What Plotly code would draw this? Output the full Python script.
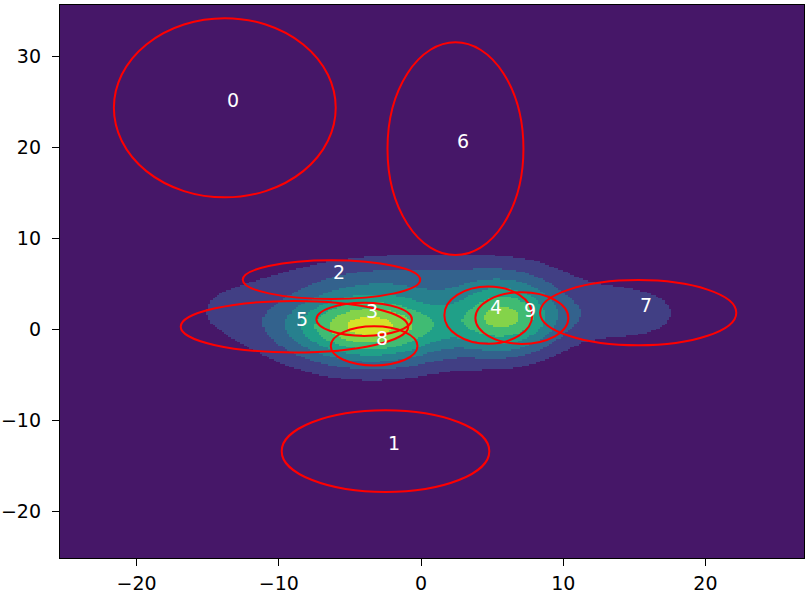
import numpy as np
import plotly.graph_objects as go
from plotly.colors import sample_colorscale

# --- GMM component ellipses (center, semi-axes) ---
comp_labels = ["0", "1", "2", "3", "4", "5", "6", "7", "8", "9"]
comp_cx = [-13.8, -2.5, -6.3, -4.0, 4.73, -8.9, 2.42, 15.27, -3.3, 7.09]
comp_cy = [24.4, -13.35, 5.5, 1.14, 1.6, 0.33, 19.9, 1.87, -1.78, 1.28]
comp_ax = [7.8, 7.3, 6.24, 3.36, 3.09, 8.0, 4.78, 6.9, 3.05, 3.27]
comp_ay = [9.85, 4.49, 2.13, 1.82, 3.15, 2.83, 11.7, 3.59, 2.15, 2.84]

# --- density bumps estimated from the filled contours ---
bump_x = [-3.6, -3.6, -14.0, -5.0, 2.0, 6.0, 14.0, -2.0]
bump_y = [0.4, 0.2, 2.2, 5.5, 6.0, 1.3, 1.8, -3.5]
bump_sx = [4.1, 4.3, 3.5, 5.0, 6.0, 2.6, 3.8, 5.0]
bump_sy = [2.4, 3.8, 3.3, 1.8, 2.2, 2.8, 2.6, 1.5]
bump_w = [0.75, 0.25, 0.12, 0.08, 0.17, 0.76, 0.21, 0.05]

x_range = [-25.39, 26.93]
y_range = [-25.1, 35.7]
n_levels = 8
peak_in_steps = 7.5

gx = np.linspace(x_range[0], x_range[1], 330)
gy = np.linspace(y_range[0], y_range[1], 330)
X, Y = np.meshgrid(gx, gy)
Z = np.zeros_like(X)
for bx, by, sx, sy, w in zip(bump_x, bump_y, bump_sx, bump_sy, bump_w):
    Z += w * np.exp(-0.5 * (((X - bx) / sx) ** 2 + ((Y - by) / sy) ** 2))
Z = Z / Z.max()
band = np.clip(np.floor(Z * peak_in_steps), 0, n_levels - 1)

cols = sample_colorscale("Viridis", [(2 * k + 1) / (2 * n_levels) for k in range(n_levels)])
cscale = []
for k, c in enumerate(cols):
    cscale.append([k / n_levels, c])
    cscale.append([(k + 1) / n_levels, c])

fig = go.Figure()
fig.add_trace(go.Heatmap(x=gx, y=gy, z=band, colorscale=cscale, zmin=-0.5, zmax=n_levels - 0.5,
                         showscale=False, zsmooth=False, hoverinfo="skip"))

shapes = []
for cx, cy, ax, ay in zip(comp_cx, comp_cy, comp_ax, comp_ay):
    shapes.append(dict(type="circle", xref="x", yref="y", x0=cx - ax, x1=cx + ax, y0=cy - ay, y1=cy + ay,
                       line=dict(color="#ff0000", width=2), layer="above"))
annotations = []
for lab, cx, cy in zip(comp_labels, comp_cx, comp_cy):
    annotations.append(dict(x=cx, y=cy, text=lab, showarrow=False, xanchor="left", yanchor="bottom",
                            yshift=-5, font=dict(color="white", size=19, family="DejaVu Sans")))

xt = [-20, -10, 0, 10, 20]
yt = [-20, -10, 0, 10, 20, 30]
fig.update_layout(
    width=811, height=595, margin=dict(l=60, r=7, t=5, b=37),
    paper_bgcolor="white", plot_bgcolor="white", shapes=shapes, annotations=annotations,
    font=dict(family="DejaVu Sans", size=19, color="black"),
)
common = dict(ticks="outside", ticklen=7, tickcolor="black", tickwidth=1.2, showline=True, linecolor="black",
              linewidth=1.3, mirror=True, showgrid=False, zeroline=False, automargin=False)
fig.update_xaxes(range=x_range, tickvals=xt, ticktext=[str(v).replace("-", "\u2212") for v in xt],
                 ticklabelstandoff=1, **common)
fig.update_yaxes(range=y_range, tickvals=yt, ticktext=[str(v).replace("-", "\u2212") for v in yt],
                 ticklabelstandoff=7, **common)
fig.write_html("out.html", config={"displayModeBar": False},
               post_script="document.body.style.margin='0px';document.body.style.overflow='hidden';")
